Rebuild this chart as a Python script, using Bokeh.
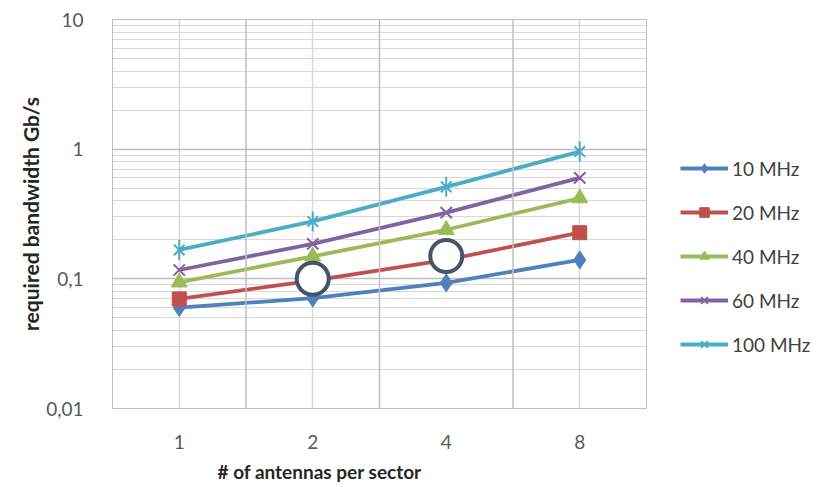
from bokeh.plotting import figure
from bokeh.models import FixedTicker, Legend, LegendItem, Span, Title, Range1d, ColumnDataSource
from bokeh.embed import file_html
from bokeh.resources import INLINE

# ---- data ----
antennas = ["1", "2", "4", "8"]
bw_10 = [0.060, 0.071, 0.093, 0.140]
bw_20 = [0.070, 0.097, 0.140, 0.227]
bw_40 = [0.094, 0.149, 0.239, 0.419]
bw_60 = [0.117, 0.186, 0.324, 0.601]
bw_100 = [0.167, 0.277, 0.512, 0.958]
series_names = ["10 MHz", "20 MHz", "40 MHz", "60 MHz", "100 MHz"]
highlight_x = ["2", "4"]
highlight_y = [0.10, 0.15]
y_ticks = [0.01, 0.1, 1, 10]
y_tick_labels = ["0,01", "0,1", "1", "10"]
x_title = "# of antennas per sector"
y_title = "required bandwidth Gb/s"

colors = ["#4F81BD", "#C0504D", "#9BBB59", "#8064A2", "#4BACC6"]
FONT = "Lato"

p = figure(frame_width=534, frame_height=389, x_range=antennas, y_range=Range1d(0.01, 10),
           y_axis_type="log", output_backend="svg", toolbar_location=None,
           min_border_left=112, min_border_top=19, min_border_bottom=70,
           min_border_right=20)
p.outline_line_color = "#bfbfbf"
p.background_fill_color = "white"

# y grid
minor = [k * 10.0 ** e for e in (-2, -1, 0) for k in range(2, 10)]
p.yaxis.ticker = FixedTicker(ticks=y_ticks, minor_ticks=minor)
p.yaxis.major_label_overrides = {t: l for t, l in zip(y_ticks, y_tick_labels)}
p.ygrid.grid_line_color = "#bfbfbf"
p.ygrid.grid_line_width = 1.5
p.ygrid.minor_grid_line_color = "#d9d9d9"
p.ygrid.minor_grid_line_width = 1
p.xgrid.grid_line_color = "#d9d9d9"
p.xgrid.grid_line_width = 1.5
for b in range(1, len(antennas)):
    p.add_layout(Span(location=b, dimension="height", line_color="#bfbfbf", line_width=1.5))

for ax in (p.xaxis, p.yaxis):
    ax.axis_line_color = "#bfbfbf"
    ax.major_tick_line_color = None
    ax.minor_tick_line_color = None
    ax.major_label_text_font = FONT
    ax.major_label_text_font_size = "19px"
    ax.major_label_text_color = "#595959"
p.yaxis.major_label_standoff = 23
p.xaxis.major_label_standoff = 20
p.yaxis.axis_label = y_title
p.yaxis.axis_label_text_font = FONT
p.yaxis.axis_label_text_font_style = "bold"
p.yaxis.axis_label_text_font_size = "21px"
p.yaxis.axis_label_text_color = "#262626"
p.yaxis.axis_label_standoff = 0

all_series = [bw_10, bw_20, bw_40, bw_60, bw_100]
items = []
for i, (name, vals) in enumerate(zip(series_names, all_series)):
    src = ColumnDataSource(dict(x=antennas, y=vals))
    c = colors[i]
    rs = [p.line("x", "y", source=src, line_color=c, line_width=3.8)]
    if i == 0:
        rs.append(p.scatter("x", "y", source=src, marker="diamond", size=18, color=c))
    elif i == 1:
        rs.append(p.scatter("x", "y", source=src, marker="square", size=14, color=c))
    elif i == 2:
        rs.append(p.scatter("x", "y", source=src, marker="triangle", size=16, color=c))
    elif i == 3:
        rs.append(p.scatter("x", "y", source=src, marker="x", size=16, line_color=c, line_width=2))
    else:
        rs.append(p.scatter("x", "y", source=src, marker="x", size=15, line_color=c, line_width=2))
        rs.append(p.scatter("x", "y", source=src, marker="dash", size=20, angle=1.5708,
                            line_color=c, line_width=2))
    items.append(LegendItem(label=name, renderers=rs))

# highlight circles
p.scatter(highlight_x, highlight_y, marker="circle", size=32, fill_color="white",
          line_color="#44546A", line_width=4)

legend = Legend(items=items, location=(34, 52), border_line_color=None,
                background_fill_alpha=0, padding=0, margin=0,
                glyph_width=48, glyph_height=24, label_height=24, spacing=20,
                label_text_font=FONT, label_text_font_size="19px",
                label_text_color="#404040", label_standoff=4)
p.add_layout(legend, "right")

p.add_layout(Title(text=x_title, align="left", offset=105, standoff=13,
                   text_font=FONT, text_font_style="bold", text_font_size="19px",
                   text_color="#262626"), "below")

open("out.html", "w").write(file_html(p, INLINE))
